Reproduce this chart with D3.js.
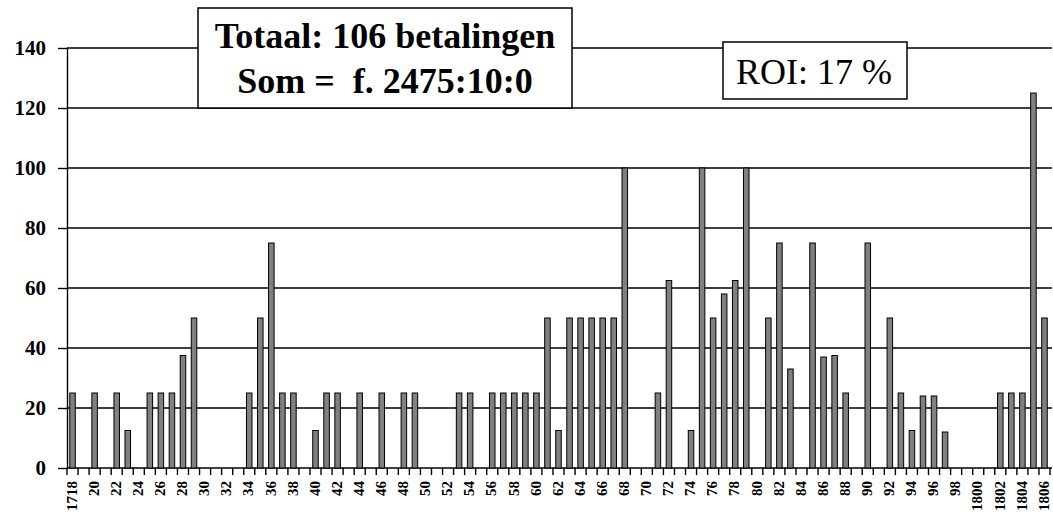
<!DOCTYPE html>
<html>
<head>
<meta charset="utf-8">
<script src="https://cdn.jsdelivr.net/npm/d3@7"></script>
<style>
  body { margin: 0; background: #fff; }
  svg { display: block; }
  text { font-family: "Liberation Serif", "Tinos", "Times New Roman", "DejaVu Serif", serif; white-space: pre; }
</style>
</head>
<body>
<div id="chart"></div>
<script>
// betalingen per jaar, 1718 - 1806
const years = d3.range(1718, 1807);
const values = [
  25, 0, 25, 0, 25, 12.5, 0, 25, 25, 25, 37.5, 50,      // 1718-1729
  0, 0, 0, 0, 25, 50, 75, 25, 25, 0,                    // 1730-1739
  12.5, 25, 25, 0, 25, 0, 25, 0, 25, 25,                // 1740-1749
  0, 0, 0, 25, 25, 0, 25, 25, 25, 25,                   // 1750-1759
  25, 50, 12.5, 50, 50, 50, 50, 50, 100, 0,             // 1760-1769
  0, 25, 62.5, 0, 12.5, 100, 50, 58, 62.5, 100,         // 1770-1779
  0, 50, 75, 33, 0, 75, 37, 37.5, 25, 0,                // 1780-1789
  75, 0, 50, 25, 12.5, 24, 24, 12, 0, 0,                // 1790-1799
  0, 0, 25, 25, 25, 125, 50                             // 1800-1806
];
const yTicks = [0, 20, 40, 60, 80, 100, 120, 140];
const titleLines = ["Totaal: 106 betalingen", "Som =  f. 2475:10:0"];
const roiText = "ROI: 17 %";

function yearLabel(y) {
  if (y === 1718 || y >= 1800) return String(y);
  return String(y).slice(2);
}

const width = 1053, height = 514;
const margin = {top: 48, right: 3, bottom: 46, left: 67};

const svg = d3.select("#chart").append("svg")
    .attr("width", width)
    .attr("height", height);

const x = d3.scaleBand()
    .domain(years)
    .range([margin.left, width - margin.right])
    .paddingInner(0.5)
    .paddingOuter(0.25);

const y = d3.scaleLinear()
    .domain([0, 140])
    .range([height - margin.bottom, margin.top]);

const step = x.step();
const gap = (step - x.bandwidth()) / 2;

/*** grid ***/
svg.append("g")
    .selectAll("line")
    .data(yTicks)
    .enter().append("line")
    .attr("x1", margin.left)
    .attr("x2", width - 1)
    .attr("y1", d => y(d))
    .attr("y2", d => y(d))
    .attr("stroke", "#000")
    .attr("stroke-width", 1.4);

/*** bars ***/
svg.append("g")
    .selectAll("rect")
    .data(years.map((yr, i) => ({year: yr, value: values[i]})).filter(d => d.value > 0))
    .enter().append("rect")
    .attr("x", d => x(d.year))
    .attr("width", x.bandwidth())
    .attr("y", d => y(d.value))
    .attr("height", d => y(0) - y(d.value))
    .attr("fill", "#808080")
    .attr("stroke", "#000")
    .attr("stroke-width", 1);

/*** y axis ***/
const yAxis = svg.append("g")
    .attr("transform", "translate(" + margin.left + ",0)")
    .call(d3.axisLeft(y).tickValues(yTicks).tickSize(9).tickPadding(12).tickSizeOuter(0));
yAxis.attr("font-family", null);
yAxis.select(".domain").attr("stroke-width", 1.4);
yAxis.selectAll(".tick line").attr("stroke-width", 1.4);
yAxis.selectAll("text")
    .attr("font-size", 21)
    .attr("font-weight", "bold")
    .attr("fill", "#000");

/*** x axis ticks ***/
const bounds = years.map(yr => x(yr) - gap).concat([x(years[years.length - 1]) + x.bandwidth() + gap]);
svg.append("g")
    .selectAll("line")
    .data(bounds)
    .enter().append("line")
    .attr("x1", d => d)
    .attr("x2", d => d)
    .attr("y1", y(0))
    .attr("y2", y(0) + 7)
    .attr("stroke", "#000")
    .attr("stroke-width", 1.4);

svg.append("g")
    .selectAll("text")
    .data(years.filter(yr => yr % 2 === 0))
    .enter().append("text")
    .attr("transform", d => "translate(" + (x(d) + x.bandwidth() / 2 - 1) + "," + (y(0) + 13) + ") rotate(-90)")
    .attr("text-anchor", "end")
    .attr("dy", "0.35em")
    .attr("font-size", 15)
    .attr("font-weight", "bold")
    .text(yearLabel);

/*** title box ***/
const tb = svg.append("g");
tb.append("rect")
    .attr("x", 198).attr("y", 8)
    .attr("width", 374).attr("height", 100)
    .attr("fill", "#fff")
    .attr("stroke", "#000")
    .attr("stroke-width", 1.5);
tb.selectAll("text")
    .data(titleLines)
    .enter().append("text")
    .attr("x", 385)
    .attr("y", (d, i) => 48 + i * 45)
    .attr("text-anchor", "middle")
    .attr("font-size", 36)
    .attr("font-weight", "bold")
    .text(d => d);

/*** ROI box ***/
const rb = svg.append("g");
rb.append("rect")
    .attr("x", 723).attr("y", 42)
    .attr("width", 184).attr("height", 57)
    .attr("fill", "#fff")
    .attr("stroke", "#000")
    .attr("stroke-width", 1.5);
rb.append("text")
    .attr("x", 814)
    .attr("y", 84)
    .attr("text-anchor", "middle")
    .attr("font-size", 36)
    .text(roiText);
</script>
</body>
</html>
